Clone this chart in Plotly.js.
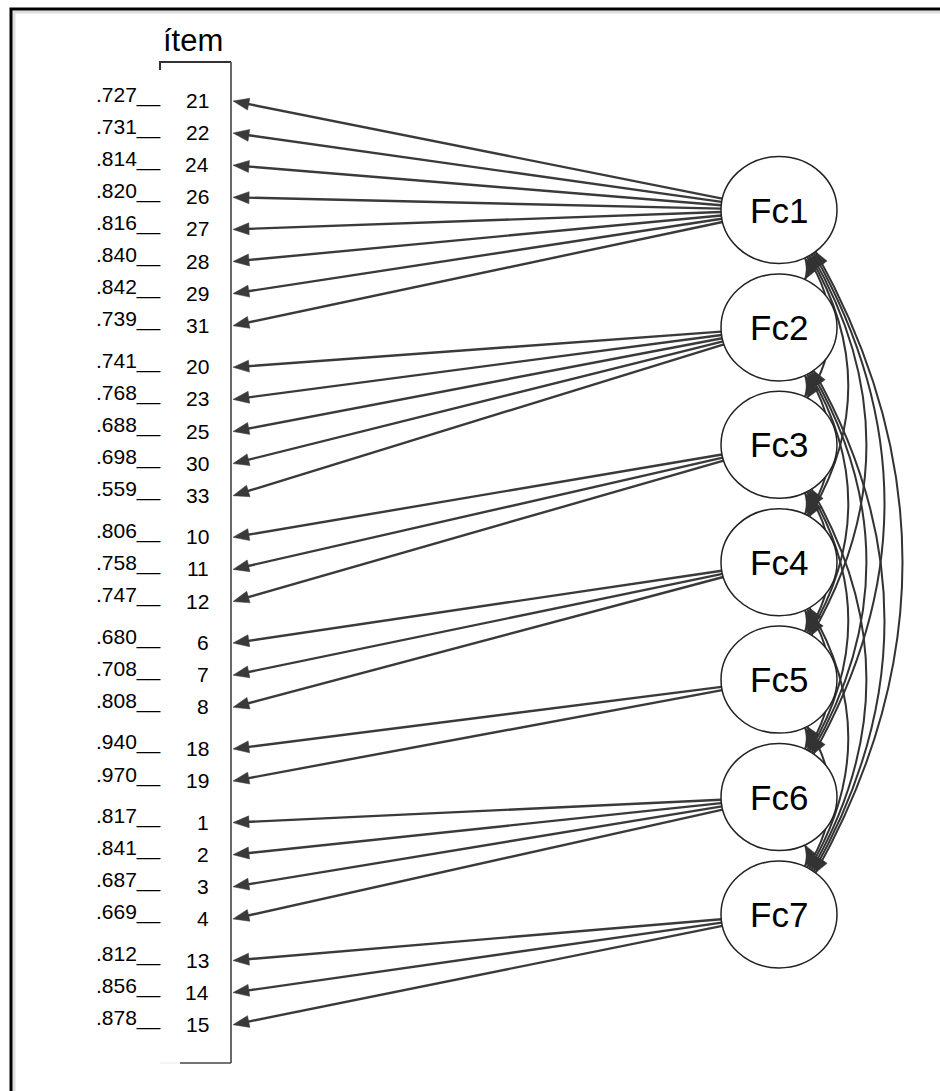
<!DOCTYPE html>
<html><head><meta charset="utf-8">
<script src="https://cdn.plot.ly/plotly-3.0.1.min.js"></script>
<style>html,body{margin:0;padding:0;background:#fff;overflow:hidden;}
#chart{position:absolute;left:0;top:0;width:960px;height:1091px;}</style>
</head><body><div id="chart"></div>
<script>
// ---- data ----
const factors = ['Fc1','Fc2','Fc3','Fc4','Fc5','Fc6','Fc7'];
const items = ['21','22','24','26','27','28','29','31','20','23','25','30','33','10','11','12','6','7','8','18','19','1','2','3','4','13','14','15'];
const loadings = ['.727','.731','.814','.820','.816','.840','.842','.739','.741','.768','.688','.698','.559','.806','.758','.747','.680','.708','.808','.940','.970','.817','.841','.687','.669','.812','.856','.878'];
const itemFactor = [0,0,0,0,0,0,0,0,1,1,1,1,1,2,2,2,3,3,3,4,4,5,5,5,5,6,6,6];
const headerLabel = 'ítem';

// ---- layout geometry ----
const W = 960, H = 1091;   // drawing a bit wider than the 940px window; the border continues off-picture
const ROW0 = 101, ROW_STEP = 32.1, GROUP_GAP = 9.5;
const FX = 779, FY0 = 210, FSTEP = 117.4, RX = 58, RY = 53.5;
const BOX_X = 231, TIP_X = 233;
const FONT = 'Liberation Sans, Arial, sans-serif';
const LINE_C = '#3a3a3a';

const itemY = items.map((_, r) => ROW0 + r * ROW_STEP + itemFactor[r] * GROUP_GAP);
const facY = factors.map((_, i) => FY0 + i * FSTEP);

const shapes = [];
const annotations = [];

function head(tx, ty, ux, uy, len, hw, color) {
  const bx = tx + ux * len, by = ty + uy * len;
  const nx = -uy, ny = ux;
  return {
    type: 'path', xref: 'x', yref: 'y',
    path: `M${tx},${ty} L${bx + nx * hw},${by + ny * hw} L${bx - nx * hw},${by - ny * hw} Z`,
    fillcolor: color, line: {color: color, width: 0.5}
  };
}
function seg(x0, y0, x1, y1, color, width) {
  return {type: 'line', xref: 'x', yref: 'y', x0, y0, x1, y1, line: {color, width}};
}

// border: top and left edges
shapes.push({type: 'path', xref: 'x', yref: 'y',
  path: `M14,${H} L14,12 L${W},12`,
  line: {color: 'rgba(0,0,0,0.13)', width: 3}});
shapes.push({type: 'path', xref: 'x', yref: 'y',
  path: `M11,${H} L11,9 L${W},9`,
  line: {color: '#000', width: 3}});

// item bracket
shapes.push(seg(160, 62, BOX_X, 62, '#333', 2));
shapes.push(seg(160, 61, 160, 70, '#333', 2));
shapes.push(seg(BOX_X, 62, BOX_X, 1063, '#444', 1.6));
shapes.push(seg(180, 1063, BOX_X, 1063, '#444', 1.6));
shapes.push(seg(160, 1063, 180, 1063, '#eee', 1.2));

// covariance arcs (drawn before ellipses so ellipses hide them)
const covHeads = [];
for (let i = 0; i < factors.length; i++) {
  for (let j = i + 1; j < factors.length; j++) {
    const s = j - i;
    const th = (66 - 2.5 * s) * Math.PI / 180;
    const x0 = FX + RX * Math.cos(th), y0 = facY[i] + RY * Math.sin(th);
    const x1 = x0, y1 = facY[j] - RY * Math.sin(th);
    const bulge = s === 1 ? 3 : 16 * s - 9;
    const cx = x0 + 2 * bulge, cy = (y0 + y1) / 2;
    shapes.push({type: 'path', xref: 'x', yref: 'y',
      path: `M${x0},${y0} Q${cx},${cy} ${x1},${y1}`,
      line: {color: '#333', width: 2}});
    let dx = cx - x0, dy = cy - y0, L = Math.hypot(dx, dy);
    covHeads.push(head(x0, y0, dx / L, dy / L, 14, 5.5, '#333'));
    dx = cx - x1; dy = cy - y1; L = Math.hypot(dx, dy);
    covHeads.push(head(x1, y1, dx / L, dy / L, 14, 5.5, '#333'));
  }
}

// loading arrows
items.forEach((it, r) => {
  const fy = facY[itemFactor[r]];
  const ty = itemY[r];
  const dx = TIP_X - FX, dy = ty - fy;
  const t = 1 / Math.sqrt((dx / RX) ** 2 + (dy / RY) ** 2);
  const sx = FX + dx * t, sy = fy + dy * t;
  const L = Math.hypot(sx - TIP_X, sy - ty);
  const ux = (sx - TIP_X) / L, uy = (sy - ty) / L;
  shapes.push(seg(sx, sy, TIP_X + ux * 12, ty + uy * 12, LINE_C, 2.4));
  shapes.push(head(TIP_X, ty, ux, uy, 16, 6, LINE_C));
  annotations.push({x: 211, y: ty - 0.5, xref: 'x', yref: 'y', text: it, showarrow: false,
    xanchor: 'right', yanchor: 'middle', font: {family: FONT, size: 21, color: '#000'}});
  annotations.push({x: 163, y: ty - 6.5, xref: 'x', yref: 'y', text: loadings[r] + '__', showarrow: false,
    xanchor: 'right', yanchor: 'middle', font: {family: FONT, size: 21, color: '#000'}});
});

// factor ellipses
factors.forEach((f, i) => {
  shapes.push({type: 'circle', xref: 'x', yref: 'y', x0: FX - RX, x1: FX + RX, y0: facY[i] - RY, y1: facY[i] + RY,
    fillcolor: '#fff', line: {color: '#222', width: 1.5}});
  annotations.push({x: FX, y: facY[i], xref: 'x', yref: 'y', text: f, showarrow: false,
    xanchor: 'center', yanchor: 'middle', font: {family: FONT, size: 35, color: '#000'}});
});
covHeads.forEach(h => shapes.push(h));

annotations.push({x: 193, y: 40, xref: 'x', yref: 'y', text: headerLabel, showarrow: false,
  xanchor: 'center', yanchor: 'middle', font: {family: FONT, size: 31, color: '#000'}});

const trace = {x: factors.map(() => FX), y: facY, type: 'scatter', mode: 'markers',
  marker: {opacity: 0, size: 1}, hoverinfo: 'skip', showlegend: false};

const layout = {
  width: W, height: H, margin: {l: 0, r: 0, t: 0, b: 0, pad: 0},
  paper_bgcolor: '#fff', plot_bgcolor: '#fff', showlegend: false,
  xaxis: {range: [0, W], visible: false, fixedrange: true, showline: false, zeroline: false, showgrid: false},
  yaxis: {range: [H, 0], visible: false, fixedrange: true, showline: false, zeroline: false, showgrid: false},
  shapes: shapes, annotations: annotations
};
Plotly.newPlot('chart', [trace], layout, {staticPlot: true, displayModeBar: false});
</script></body></html>
